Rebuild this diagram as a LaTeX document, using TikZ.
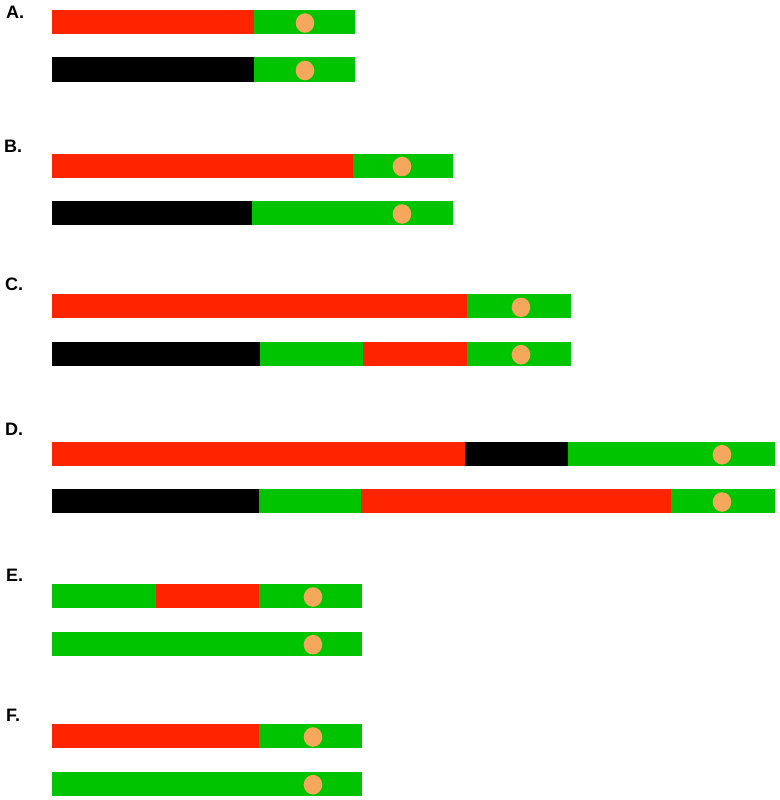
\documentclass[tikz,border=0pt]{standalone}
\usepackage{fontspec}
\setmainfont{Liberation Sans}
\definecolor{bred}{RGB}{255,36,0}
\definecolor{bgreen}{RGB}{0,196,0}
\definecolor{borange}{RGB}{245,167,92}
\newcommand{\segm}[4]{\fill[#1] (#2,#4) rectangle (#3,#4+24);}
\newcommand{\mdot}[2]{\fill[borange] (#1,#2+13) ellipse [x radius=9.3, y radius=9.8];}
\begin{document}
\begin{tikzpicture}[x=1pt,y=-1pt,
  lab/.style={anchor=base west, inner sep=0pt, font=\bfseries\fontsize{18}{18}\selectfont}]
\useasboundingbox (0,0) rectangle (779,800);
% A
\node[lab] (la) at (6,19) {A.};
\segm{bred}{52}{254}{10}\segm{bgreen}{254}{355}{10}\mdot{305}{10}
\segm{black}{52}{254}{57.5}\segm{bgreen}{254}{355}{57.5}\mdot{305}{57.5}
% B
\node[lab] (lb) at (4,152) {B.};
\segm{bred}{52}{353}{153.5}\segm{bgreen}{353}{453}{153.5}\mdot{402}{153.5}
\segm{black}{52}{252}{201}\segm{bgreen}{252}{453}{201}\mdot{402}{201}
% C
\node[lab] (lc) at (5,290) {C.};
\segm{bred}{52}{467}{294.3}\segm{bgreen}{467}{571}{294.3}\mdot{521}{294.3}
\segm{black}{52}{260}{341.7}\segm{bgreen}{260}{363}{341.7}\segm{bred}{363}{467}{341.7}\segm{bgreen}{467}{571}{341.7}\mdot{521}{341.7}
% D
\node[lab] (ld) at (5,435) {D.};
\segm{bred}{52}{465}{441.7}\segm{black}{465}{568}{441.7}\segm{bgreen}{568}{775}{441.7}\mdot{722}{441.7}
\segm{black}{52}{259}{489}\segm{bgreen}{259}{361}{489}\segm{bred}{361}{671}{489}\segm{bgreen}{671}{775}{489}\mdot{722}{489}
% E
\node[lab] (le) at (6,581) {E.};
\segm{bgreen}{52}{156}{584}\segm{bred}{156}{259}{584}\segm{bgreen}{259}{362}{584}\mdot{313}{584}
\segm{bgreen}{52}{362}{631.7}\mdot{313}{631.7}
% F
\node[lab] (lf) at (6,721) {F.};
\segm{bred}{52}{259}{724}\segm{bgreen}{259}{362}{724}\mdot{313}{724}
\segm{bgreen}{52}{362}{771.7}\mdot{313}{771.7}
\end{tikzpicture}
\end{document}
